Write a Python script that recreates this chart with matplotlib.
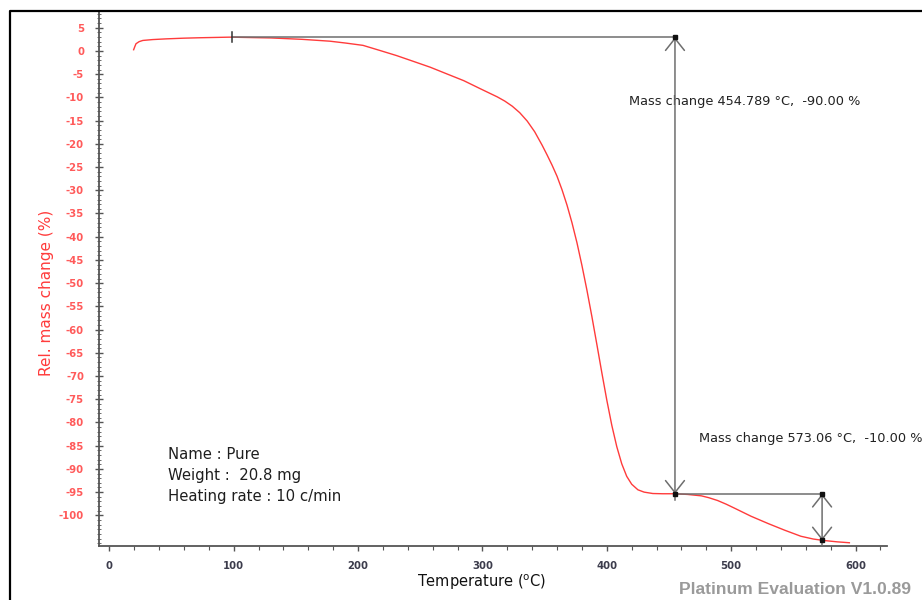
import matplotlib
matplotlib.use("Agg")
import matplotlib.pyplot as plt
from matplotlib.lines import Line2D
from matplotlib.ticker import MultipleLocator, FixedLocator

plt.rcParams["axes.unicode_minus"] = False

# ---- data ----
temperature = [19.6, 20.5, 21.5, 24, 27, 35, 45.7, 60, 72.6, 96.8, 130, 155, 177.4, 190, 204,
               217, 231, 244, 258, 271, 285, 298, 312, 318, 324, 330, 336, 342, 348, 352,
               356, 360, 364, 368, 372, 376, 380, 384, 388, 392, 396, 400, 404, 408, 412,
               416, 420, 425, 430, 437, 445, 455, 465, 476, 482, 489, 496, 503, 516,
               530, 543, 556, 566, 574, 585, 595]
rel_mass = [0.26, 0.9, 1.55, 2.0, 2.26, 2.45, 2.6, 2.75, 2.84, 2.97, 2.8, 2.5, 2.1, 1.7, 1.2,
            0.15, -1.0, -2.2, -3.5, -4.9, -6.4, -8.1, -9.9, -10.8, -11.9, -13.3, -15.1,
            -17.4, -20.3, -22.4, -24.6, -27.0, -29.9, -33.2, -37.0, -41.3, -46.2, -51.5,
            -57.2, -63.2, -69.3, -75.2, -80.6, -85.2, -88.9, -91.6, -93.3, -94.5, -95.0,
            -95.3, -95.35, -95.35, -95.5, -95.8, -96.2, -96.8, -97.6, -98.5, -100.2,
            -101.8, -103.2, -104.5, -105.1, -105.4, -105.7, -105.9]

start_T = 98.6
step1_T = 454.789
step2_T = 573.06
level_top = 2.95
level_mid = -95.35
level_end = -105.4
label1 = "Mass change 454.789 °C,  -90.00 %"
label2 = "Mass change 573.06 °C,  -10.00 %"
info_lines = ["Name : Pure", "Weight :  20.8 mg", "Heating rate : 10 c/min"]

x_major = [0, 100, 200, 300, 400, 500, 600]
y_major = list(range(-100, 6, 5))

RED = "#ff3b3b"
TICKRED = "#ff5a5a"
GRAY = "#6e6e6e"

fig = plt.figure(figsize=(9.22, 6.0), dpi=100)
ax = fig.add_axes([99.3 / 922, 1 - 546 / 600, (886.7 - 99.3) / 922, (546 - 11.7) / 600])

ax.plot(temperature, rel_mass, color=RED, lw=1.0, zorder=3)

ax.set_xlim(-8, 625)
ax.set_ylim(-106.6, 8.45)

for s in ("top", "right"):
    ax.spines[s].set_visible(False)
for s in ("left", "bottom"):
    ax.spines[s].set_color("#555555")
    ax.spines[s].set_linewidth(1.3)

ax.xaxis.set_major_locator(FixedLocator(x_major))
ax.xaxis.set_minor_locator(MultipleLocator(20))
ax.yaxis.set_major_locator(FixedLocator(y_major))
ax.yaxis.set_minor_locator(MultipleLocator(1))

ax.tick_params(axis="x", which="major", direction="out", length=3.5, width=1.0,
               color="#555555", labelsize=7.3, labelcolor="#3c3c4c", pad=7)
ax.tick_params(axis="x", which="minor", direction="out", length=3, width=0.8, color="#555555")
ax.tick_params(axis="y", which="major", direction="inout", length=6, width=1.0,
               color="#555555", labelsize=7.3, labelcolor=TICKRED, pad=8)
ax.tick_params(axis="y", which="minor", direction="inout", length=3, width=0.6, color="#555555")
for lab in ax.get_xticklabels() + ax.get_yticklabels():
    lab.set_fontweight("bold")

# annotation lines
ax.plot([start_T, step1_T], [level_top, level_top], color=GRAY, lw=1.1, zorder=4)
ax.plot([start_T, start_T], [level_top - 1.1, level_top + 1.1], color="#333333", lw=1.1, zorder=4)
ax.plot([step1_T, step2_T], [level_mid, level_mid], color=GRAY, lw=1.1, zorder=4)
ax.plot([step1_T, step1_T], [level_mid, level_mid - 1.3], color=GRAY, lw=1.1, zorder=4)
ax.plot([step2_T, step2_T], [level_end, -106.6], color=GRAY, lw=1.1, zorder=4)

arrow_kw = dict(arrowstyle="<->,head_length=0.43,head_width=0.34", color=GRAY, lw=1.1,
                shrinkA=0, shrinkB=0, mutation_scale=20)
ax.annotate("", xy=(step1_T, level_top), xytext=(step1_T, level_mid), arrowprops=arrow_kw, zorder=4)
ax.annotate("", xy=(step2_T, level_mid), xytext=(step2_T, level_end), arrowprops=arrow_kw, zorder=4)

ax.plot([step1_T, step1_T, step2_T, step2_T], [level_top, level_mid, level_mid, level_end],
        ls="none", marker="s", ms=2.2, color="#111111", zorder=5)

ax.text(418, -10.9, label1, fontsize=9.3, color="#222222", va="center", ha="left",
        family="DejaVu Sans", clip_on=False)
ax.text(474.5, -83.4, label2, fontsize=9.3, color="#222222", va="center", ha="left",
        family="DejaVu Sans", clip_on=False)

for i, line in enumerate(info_lines):
    ax.text(47.5, -87.0 - i * 4.52, line, fontsize=10.7, color="#1e1e1e",
            va="center", ha="left")

fig.text(47 / 922, 1 - 293 / 600, "Rel. mass change (%)", rotation=90, color=RED,
         fontsize=11, ha="center", va="center")
fig.text(482 / 922, 1 - 582 / 600, r"Temperature ($^{\mathrm{o}}$C)", color="#111111",
         fontsize=10.5, ha="center", va="center")
fig.text(795 / 922, 1 - 590 / 600, "Platinum Evaluation V1.0.89", color="#9a9a9a",
         fontsize=12.6, fontweight="bold", family="Liberation Sans", ha="center", va="center")

# outer frame
fig.add_artist(Line2D([10 / 922, 10 / 922, 1.0], [0.0, 1 - 11 / 600, 1 - 11 / 600],
                      transform=fig.transFigure, color="black", lw=1.6))

fig.savefig("out.png", dpi=100)
